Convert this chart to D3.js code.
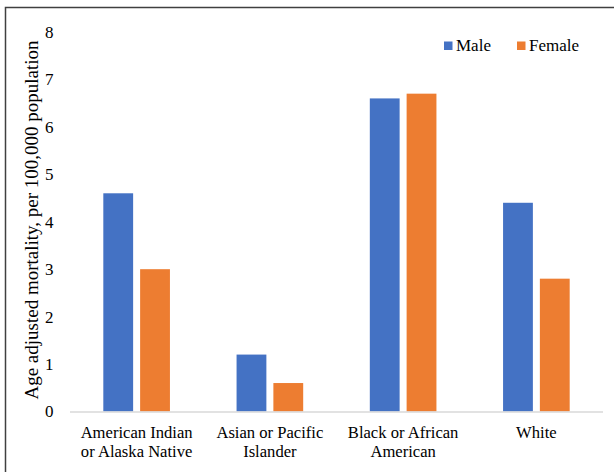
<!DOCTYPE html>
<html>
<head>
<meta charset="utf-8">
<script src="https://cdn.jsdelivr.net/npm/d3@7"></script>
<style>
  html, body { margin: 0; padding: 0; background: #fff; }
</style>
</head>
<body>
<svg id="chart" width="614" height="472"></svg>
<script>
// Age adjusted mortality by race and sex
const categories = [
  ["American Indian", "or Alaska Native"],
  ["Asian or Pacific", "Islander"],
  ["Black or African", "American"],
  ["White"]
];
const seriesNames = ["Male", "Female"];
const maleValues = [4.6, 1.2, 6.6, 4.4];
const femaleValues = [3.0, 0.6, 6.7, 2.8];
const yTicks = [0, 1, 2, 3, 4, 5, 6, 7, 8];
const colors = ["#4472C4", "#ED7D31"];
const FONT = "'Liberation Serif', 'Times New Roman', serif";

const svg = d3.select("#chart");
const W = 614, H = 472;
const plot = { left: 70, right: 603, top: 32, bottom: 411.5 };

// outer frame
svg.append("rect")
  .attr("x", 5.5).attr("y", 7.5)
  .attr("width", W + 10).attr("height", H + 10)
  .attr("fill", "none").attr("stroke", "#404040").attr("stroke-width", 1.5);

const keys = categories.map((c, i) => i);
const x = d3.scaleBand().domain(keys).range([plot.left, plot.right]).paddingInner(0.5).paddingOuter(0.25);
const y = d3.scaleLinear().domain([0, 8]).range([plot.bottom, plot.top]);
const xs = d3.scaleBand().domain(seriesNames).range([0, x.bandwidth()]).paddingInner(0.19);

const rows = keys.map(i => ({ i, values: [maleValues[i], femaleValues[i]] }));

// bars
const groups = svg.append("g").selectAll("g").data(rows).join("g")
  .attr("transform", d => `translate(${x(d.i)},0)`);
groups.selectAll("rect")
  .data(d => d.values.map((v, k) => ({ name: seriesNames[k], v, k })))
  .join("rect")
  .attr("x", d => xs(d.name))
  .attr("width", xs.bandwidth())
  .attr("y", d => y(d.v))
  .attr("height", d => y(0) - y(d.v))
  .attr("fill", d => colors[d.k]);

// y axis labels (no axis line)
const yAxis = d3.axisLeft(y).tickValues(yTicks).tickSize(0).tickPadding(0).tickFormat(d3.format("d"));
const yg = svg.append("g").attr("transform", `translate(${53.5},0)`).call(yAxis);
yg.select(".domain").remove();
yg.selectAll("text").attr("font-size", 17);

// x baseline
svg.append("line")
  .attr("x1", plot.left).attr("x2", plot.right)
  .attr("y1", y(0) + 0.5).attr("y2", y(0) + 0.5)
  .attr("stroke", "#d9d9d9").attr("stroke-width", 1.5);

// category labels
const xg = svg.append("g");
rows.forEach(d => {
  const cx = x(d.i) + x.bandwidth() / 2;
  const t = xg.append("text")
    .attr("x", cx)
    .attr("y", 437.5)
    .attr("text-anchor", "middle")
    .attr("font-size", 16.6);
  categories[d.i].forEach((line, j) => {
    t.append("tspan").attr("x", cx).attr("dy", j === 0 ? 0 : 19).text(line);
  });
});

// y axis title
svg.append("text")
  .attr("transform", `translate(38,220) rotate(-90)`)
  .attr("text-anchor", "middle")
  .attr("font-size", 19)
  .text("Age adjusted mortality, per 100,000 population");

// legend
const legendX = [444, 517];
const lg = svg.append("g").selectAll("g").data(seriesNames).join("g")
  .attr("transform", (d, i) => `translate(${legendX[i]},41.5)`);
lg.append("rect").attr("width", 8.5).attr("height", 8.5).attr("fill", (d, i) => colors[i]);
lg.append("text").attr("x", 12).attr("y", 9.5).attr("font-size", 17).text(d => d);

// serif type throughout
svg.selectAll("text").attr("font-family", FONT).attr("fill", "#000");
</script>
</body>
</html>
